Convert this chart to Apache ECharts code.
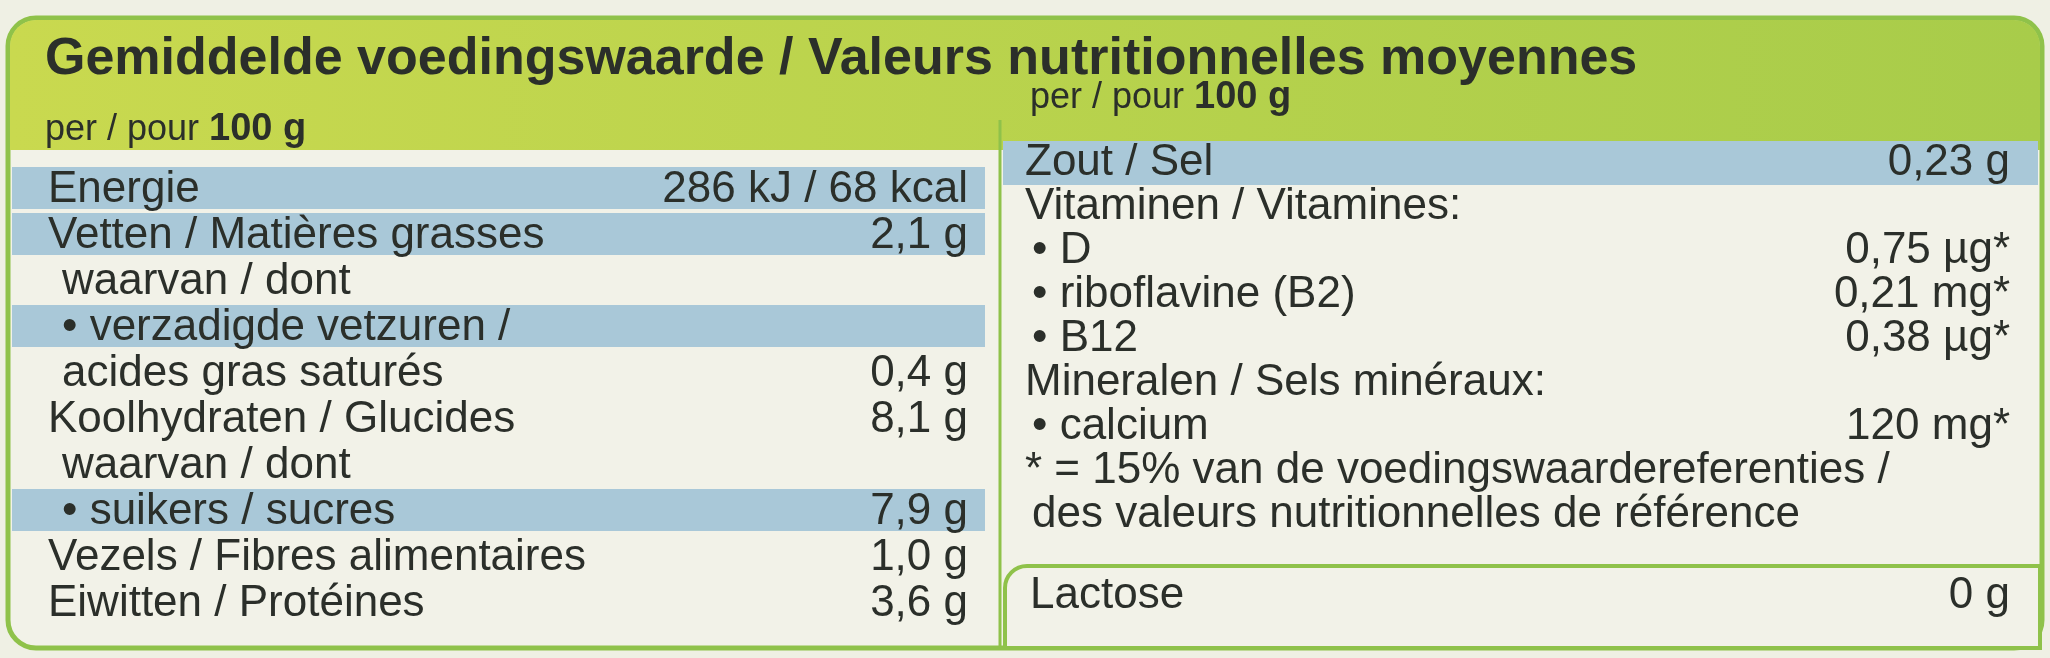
<!DOCTYPE html>
<html><head><meta charset="utf-8">
<script src="https://cdn.jsdelivr.net/npm/echarts@6/dist/echarts.min.js"></script>
<style>html,body{margin:0;padding:0;background:#eef0e6}#c{width:2050px;height:658px}</style>
</head><body><div id="c"></div>
<script>
const title = "Gemiddelde voedingswaarde / Valeurs nutritionnelles moyennes";
const perLabel = ["per / pour ", "100 g"];
const leftLabels = ["Energie","Vetten / Matières grasses","waarvan / dont","• verzadigde vetzuren /","acides gras saturés","Koolhydraten / Glucides","waarvan / dont","• suikers / sucres","Vezels / Fibres alimentaires","Eiwitten / Protéines"];
const leftValues = ["286 kJ / 68 kcal","2,1 g","","","0,4 g","8,1 g","","7,9 g","1,0 g","3,6 g"];
const leftStripe = [1,1,0,1,0,0,0,1,0,0];
const leftIndent = [0,0,1,1,1,0,1,1,0,0];
const rightLabels = ["Zout / Sel","Vitaminen / Vitamines:","• D","• riboflavine (B2)","• B12","Mineralen / Sels minéraux:","• calcium","* = 15% van de voedingswaardereferenties /","des valeurs nutritionnelles de référence"];
const rightValues = ["0,23 g","","0,75 µg*","0,21 mg*","0,38 µg*","","120 mg*","",""];
const rightStripe = [1,0,0,0,0,0,0,0,0];
const rightIndent = [0,0,1,1,1,0,1,0,1];
const lactose = ["Lactose","0 g"];

const chart = echarts.init(document.getElementById('c'));
const F = "'Liberation Sans', 'Noto Sans', sans-serif";
const TF = '44px '+F;
const g = [];
g.push({type:'rect',shape:{x:0,y:0,width:2050,height:658},style:{fill:'#eff0e4'}});
g.push({type:'rect',shape:{x:8,y:18,width:2034,height:630,r:28},style:{fill:'#f2f2e8',stroke:'#8fc24a',lineWidth:5}});
g.push({type:'rect',shape:{x:10,y:20,width:2030,height:130,r:[26,26,0,0]},style:{fill:new echarts.graphic.LinearGradient(0,0,1,0,[{offset:0,color:'#c9d94f'},{offset:1,color:'#a8cc4a'}])}});
g.push({type:'text',style:{x:45,y:60,text:title,font:'bold 52px '+F,fill:'#2b2f2a',textVerticalAlign:'middle'}});
g.push({type:'text',style:{x:45,y:130,rich:{a:{font:'36px '+F,fill:'#2b2f2a'},b:{font:'bold 38px '+F,fill:'#2b2f2a'}},text:'{a|'+perLabel[0]+'}{b|'+perLabel[1]+'}',textVerticalAlign:'middle'}});
g.push({type:'text',style:{x:1030,y:98,rich:{a:{font:'36px '+F,fill:'#2b2f2a'},b:{font:'bold 38px '+F,fill:'#2b2f2a'}},text:'{a|'+perLabel[0]+'}{b|'+perLabel[1]+'}',textVerticalAlign:'middle'}});
g.push({type:'line',shape:{x1:1000,y1:120,x2:1000,y2:648},style:{stroke:'#8fc24a',lineWidth:3}});
const lTop=167, lStep=46;
leftLabels.forEach((t,i)=>{
  const y=lTop+i*lStep;
  if(leftStripe[i]) g.push({type:'rect',shape:{x:12,y:y,width:973,height:lStep-4},style:{fill:'#a9c8d8'}});
  g.push({type:'text',style:{x:leftIndent[i]?62:48,y:y+lStep/2,text:t,font:TF,fill:'#2b2f2a',textVerticalAlign:'middle'}});
  if(leftValues[i]) g.push({type:'text',style:{x:968,y:y+lStep/2,text:leftValues[i],font:TF,fill:'#2b2f2a',textAlign:'right',textVerticalAlign:'middle'}});
});
const rTop=141, rStep=44;
rightLabels.forEach((t,i)=>{
  const y=rTop+i*rStep;
  if(rightStripe[i]) g.push({type:'rect',shape:{x:1003,y:y,width:1035,height:rStep},style:{fill:'#a9c8d8'}});
  g.push({type:'text',style:{x:rightIndent[i]?1032:1025,y:y+rStep/2,text:t,font:TF,fill:'#2b2f2a',textVerticalAlign:'middle'}});
  if(rightValues[i]) g.push({type:'text',style:{x:2010,y:y+rStep/2,text:rightValues[i],font:TF,fill:'#2b2f2a',textAlign:'right',textVerticalAlign:'middle'}});
});
g.push({type:'rect',shape:{x:1005,y:566,width:1035,height:82,r:[22,0,0,0]},style:{fill:'#f2f2e8',stroke:'#8fc24a',lineWidth:4}});
g.push({type:'text',style:{x:1030,y:596,text:lactose[0],font:TF,fill:'#2b2f2a',textVerticalAlign:'middle'}});
g.push({type:'text',style:{x:2010,y:596,text:lactose[1],font:TF,fill:'#2b2f2a',textAlign:'right',textVerticalAlign:'middle'}});
chart.setOption({animation:false,graphic:{elements:g}});
</script></body></html>
